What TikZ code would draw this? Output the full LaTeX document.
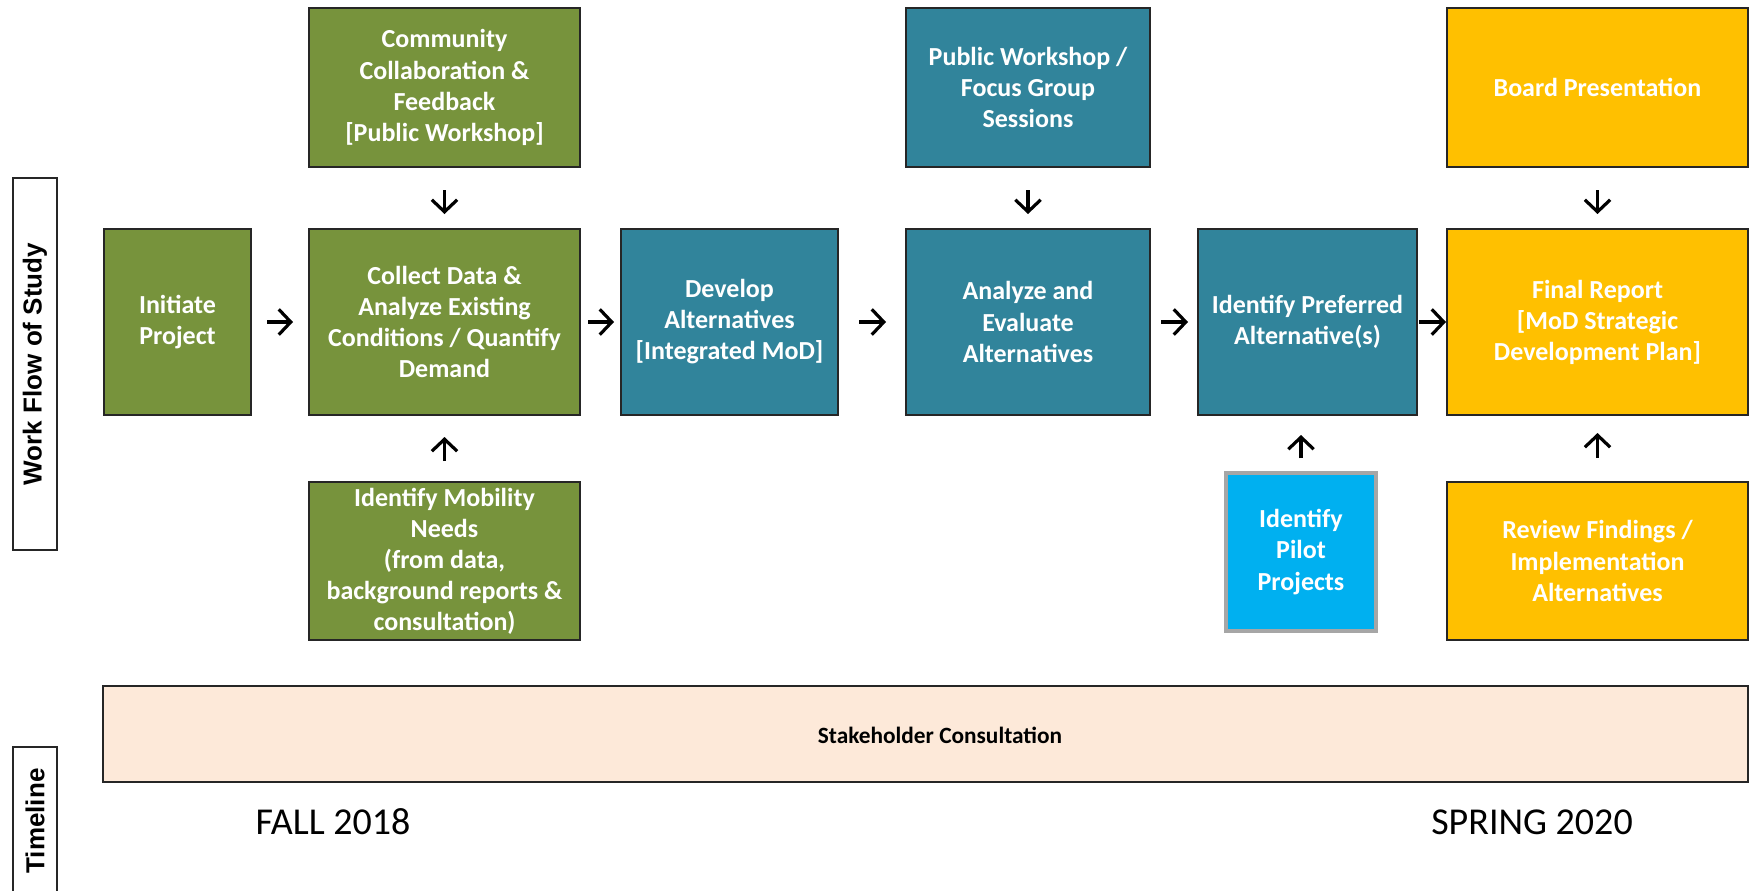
\documentclass[tikz,border=0pt]{standalone}
\usepackage{fontspec}
\setmainfont{Carlito}
\newfontfamily\labelfont{Liberation Sans}
\usetikzlibrary{arrows.meta}
\definecolor{olivebox}{HTML}{77933C}
\definecolor{tealbox}{HTML}{31849B}
\definecolor{goldbox}{HTML}{FFC000}
\definecolor{cyanbox}{HTML}{00B0F0}
\definecolor{peachbox}{HTML}{FDE9D9}
\definecolor{boxline}{HTML}{262626}
\definecolor{pilotline}{HTML}{A6A6A6}
\begin{document}
\begin{tikzpicture}[x=0.75pt,y=-0.75pt,
  box/.style={draw=boxline, line width=1.2pt, outer sep=0pt, inner sep=0pt,
    align=center, text=white, font=\bfseries\fontsize{19.5}{23.3}\selectfont},
  greenbox/.style={box, fill=olivebox},
  bluebox/.style={box, fill=tealbox},
  yellowbox/.style={box, fill=goldbox},
  sidelabel/.style={draw=boxline, line width=1pt, outer sep=0pt, inner sep=0pt,
    minimum height=33pt, font=\labelfont\bfseries\fontsize{19.5}{23}\selectfont},
  season/.style={font=\fontsize{28.5}{32}\selectfont, inner sep=0pt},
  arr/.style={line width=2.4pt, -{Straight Barb[length=9pt,width=19pt,line width=2.4pt]}}
]
\useasboundingbox (0,0) rectangle (1749,890);

% row labels on the left
\node[sidelabel, minimum width=279pt, rotate=90] (wf) at (35,364) {Work Flow of Study};
\node[sidelabel, minimum width=111pt, rotate=90] (tl) at (35,821) {Timeline};

% upper row
\node[greenbox, minimum width=203.25pt, minimum height=119.25pt] (community) at (444.5,87.5)
  {Community\\Collaboration \&\\Feedback\\{[}Public Workshop{]}};
\node[bluebox, minimum width=183pt, minimum height=119.25pt] (pubws) at (1028,87.5)
  {Public Workshop /\\Focus Group\\Sessions};
\node[yellowbox, minimum width=225.75pt, minimum height=119.25pt] (board) at (1597.5,87.5)
  {Board Presentation};

% main work flow
\node[greenbox, minimum width=110.25pt, minimum height=139.5pt] (init) at (177.5,322)
  {Initiate\\Project};
\node[greenbox, minimum width=203.25pt, minimum height=139.5pt] (collect) at (444.5,322)
  {Collect Data \&\\Analyze Existing\\Conditions / Quantify\\Demand};
\node[bluebox, minimum width=162.75pt, minimum height=139.5pt] (develop) at (729.5,322)
  {Develop\\Alternatives\\{[}Integrated MoD{]}};
\node[bluebox, minimum width=183pt, minimum height=139.5pt] (analyze) at (1028,322)
  {Analyze and\\Evaluate\\Alternatives};
\node[bluebox, minimum width=164.25pt, minimum height=139.5pt] (prefer) at (1307.5,322)
  {Identify Preferred\\Alternative(s)};
\node[yellowbox, minimum width=225.75pt, minimum height=139.5pt] (final) at (1597.5,322)
  {Final Report\\{[}MoD Strategic\\Development Plan{]}};

% lower row
\node[greenbox, minimum width=203.25pt, minimum height=118.5pt] (mobility) at (444.5,561)
  {Identify Mobility\\Needs\\(from data,\\background reports \&\\consultation)};
\node[box, fill=cyanbox, draw=pilotline, line width=3pt, minimum width=112pt, minimum height=118pt] (pilot) at (1301,552)
  {Identify\\Pilot\\Projects};
\node[yellowbox, minimum width=225.75pt, minimum height=118.5pt] (review) at (1597.5,561)
  {Review Findings /\\Implementation\\Alternatives};

% timeline band
\node[draw=boxline, line width=1.2pt, fill=peachbox, outer sep=0pt, minimum width=1233.75pt, minimum height=72pt] (stake) at (925.5,734) {};
\node[font=\bfseries\fontsize{17.5}{20}\selectfont, inner sep=0pt] (stakelabel) at (940,735) {Stakeholder Consultation};
\node[season] (fall) at (333,822) {FALL 2018};
\node[season] (spring) at (1532,822) {SPRING 2020};

% horizontal flow arrows
\draw[arr, shorten <=12pt, shorten >=12pt] (init.east) -- (collect.west);
\draw[arr, shorten <=6pt, shorten >=5.25pt] (collect.east) -- (develop.west);
\draw[arr, shorten <=15.75pt, shorten >=15pt] (develop.east) -- (analyze.west);
\draw[arr, shorten <=8.25pt, shorten >=7.5pt] (analyze.east) -- (prefer.west);
\draw[arr, shorten <=1.5pt, shorten >=0.75pt] (prefer.east) -- (final.west);

% inputs from above
\draw[arr, shorten <=17.25pt, shorten >=11.25pt] (community.south) -- (collect.north);
\draw[arr, shorten <=17.25pt, shorten >=11.25pt] (pubws.south) -- (analyze.north);
\draw[arr, shorten <=17.25pt, shorten >=11.25pt] (board.south) -- (final.north);

% inputs from below
\draw[arr, shorten <=15.75pt, shorten >=16.5pt] (mobility.north) -- (collect.south);
\draw[arr, shorten <=11.25pt, shorten >=15pt] (pilot.north) -- (prefer.south -| pilot.north);
\draw[arr, shorten <=18pt, shorten >=13.5pt] (review.north) -- (final.south);
\end{tikzpicture}
\end{document}
